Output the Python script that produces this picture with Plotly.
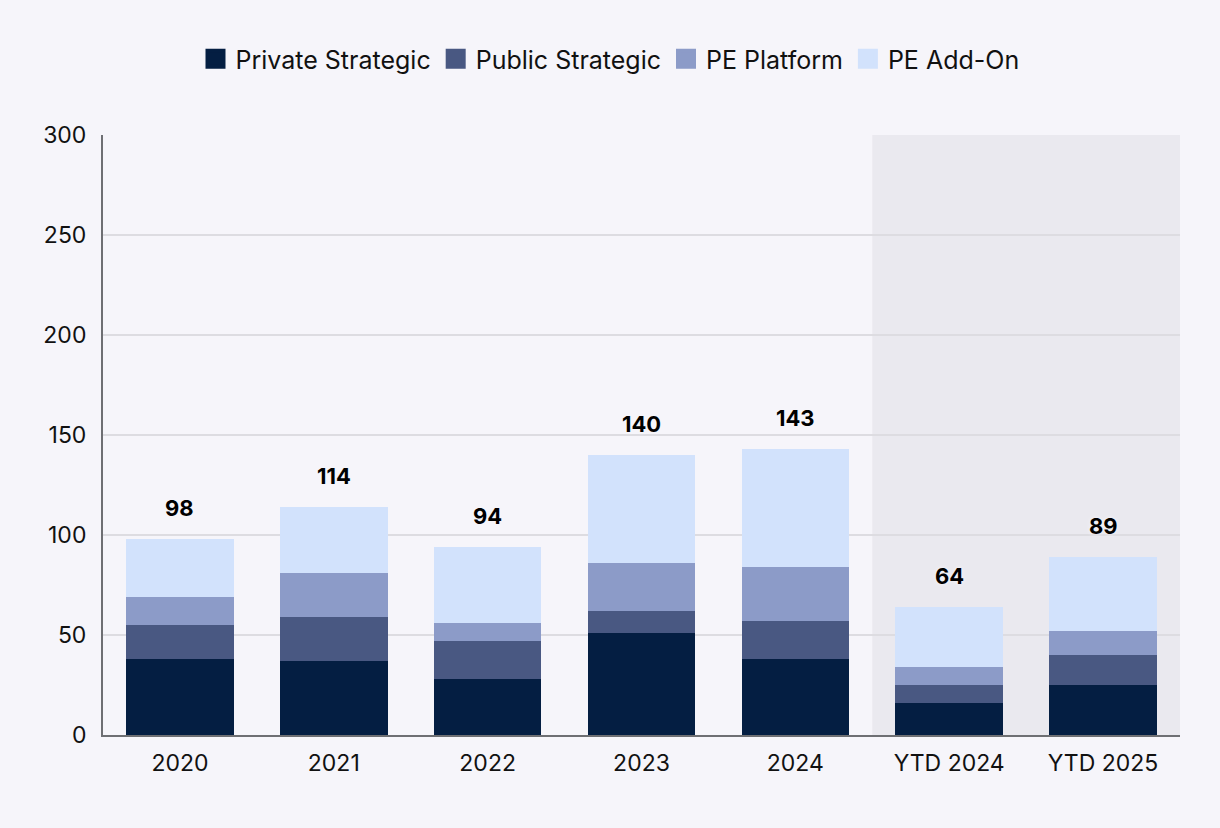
import plotly.graph_objects as go

categories = ["2020", "2021", "2022", "2023", "2024", "YTD 2024", "YTD 2025"]
private_strategic = [38, 37, 28, 51, 38, 16, 25]
public_strategic = [17, 22, 19, 11, 19, 9, 15]
pe_platform = [14, 22, 9, 24, 27, 9, 12]
pe_addon = [29, 33, 38, 54, 59, 30, 37]
totals = [98, 114, 94, 140, 143, 64, 89]

series = [
    ("Private Strategic", private_strategic, "#041E42"),
    ("Public Strategic", public_strategic, "#495882"),
    ("PE Platform", pe_platform, "#8C9BC8"),
    ("PE Add-On", pe_addon, "#D2E2FC"),
]

FONT = "Inter, Roboto, sans-serif"
BG = "#F6F5FA"

fig = go.Figure()
for i, (name, vals, color) in enumerate(series):
    fig.add_trace(go.Bar(
        x=categories, y=vals, name=name, legendgroup=name, showlegend=False,
        marker=dict(color=color, line=dict(width=0)),
        width=0.7, hoverinfo="skip",
    ))
for i, (name, vals, color) in enumerate(series):
    fig.add_trace(go.Scatter(
        x=[categories[0]], y=[None], mode="markers", name=name, legendgroup=name,
        legendrank=i + 1,
        marker=dict(symbol="square", size=16, color=color, line=dict(color=color, width=4)),
        hoverinfo="skip",
    ))

for idx, t in enumerate(totals):
    fig.add_annotation(
        x=idx, y=t, text=str(t), showarrow=False, yanchor="bottom", yshift=16,
        font=dict(family=FONT, size=22, color="#000000", weight="bold",
                  shadow="0px 0px 4px " + BG),
    )

fig.add_shape(type="rect", xref="x", yref="paper", x0=4.5, x1=6.5, y0=0, y1=1,
              fillcolor="#EAE9EF", line=dict(width=0), layer="below")

fig.update_layout(
    barmode="stack",
    width=1220, height=828,
    paper_bgcolor=BG, plot_bgcolor=BG,
    margin=dict(l=103, r=40, t=135, b=93),
    font=dict(family=FONT, size=22, color="#111111"),
    legend=dict(orientation="h", xref="container", x=0.5, xanchor="center",
                yref="container", y=1 - 59 / 828, yanchor="middle",
                font=dict(size=25, color="#111111"),
                itemsizing="trace", itemclick=False, itemdoubleclick=False,
                itemwidth=30),
    bargap=0.3,
    showlegend=True,
)
fig.update_xaxes(type="category", range=[-0.5, 6.5], showline=True, linecolor="#6E6F73",
                 linewidth=2, ticks="", tickfont=dict(size=23, color="#111111"),
                 showgrid=False, ticklabelstandoff=6)
fig.update_yaxes(range=[0, 300], dtick=50, showline=True, linecolor="#6E6F73", linewidth=2,
                 gridcolor="#DDDCE1", gridwidth=1.5, ticks="", zeroline=False,
                 tickfont=dict(size=23, color="#111111"), ticklabelstandoff=10)

fig.write_html("out.html", config={"displayModeBar": False},
               post_script="document.body.style.margin='0';")
